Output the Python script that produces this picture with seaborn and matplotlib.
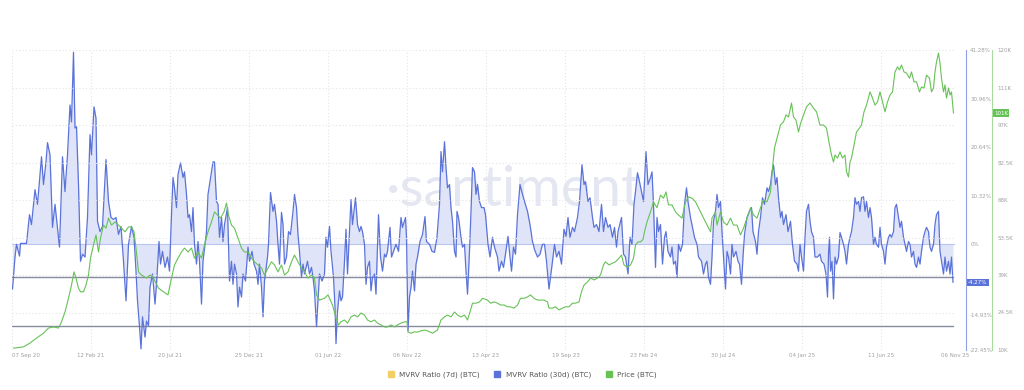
import pandas as pd
import numpy as np
import seaborn as sns
import matplotlib.pyplot as plt
from matplotlib.lines import Line2D

# --- data ----------------------------------------------------------------
start = "2020-09-07"
end = "2025-11-06"

# MVRV Ratio (30d), % ; x = days since 07 Sep 2020
mvrv_day = [
    1, 6, 9, 15, 17, 29, 35, 39, 46, 51,
    59, 63, 68, 71, 76, 81, 86, 95, 101, 106,
    111, 116, 119, 123, 126, 129, 133, 137, 141, 146,
    151, 156, 159, 164, 168, 171, 176, 181, 188, 193,
    198, 203, 208, 213, 218, 223, 228, 233, 239, 244,
    248, 251, 255, 258, 261, 266, 269, 273, 276, 281,
    286, 289, 294, 297, 301, 306, 311, 315,
    319, 322, 325, 329, 332, 337, 342, 345, 349, 352,
    355, 359, 362, 365, 369, 372, 375, 379, 382, 389,
    392, 395, 399, 402, 405, 409, 412, 415, 419, 422,
    425, 431, 435, 439, 442, 445, 449, 452, 455, 459,
    462, 467, 472, 475, 480, 484, 489, 492, 495, 499,
    502, 505, 511, 513, 517, 522, 525, 529, 532, 535,
    539, 542, 545, 549, 553, 557, 562, 565, 569, 572,
    575, 579, 582, 585, 591, 595, 599, 602, 605, 609,
    612, 615, 620, 625,
    628, 631, 635, 638, 643, 646, 648, 651, 655, 658,
    661, 665, 668, 671, 675, 678, 681, 687, 691, 695,
    698, 701, 705, 708, 711, 715, 718, 721, 725, 728,
    733, 737, 741, 745, 748, 751, 756, 759, 763, 768,
    773, 778, 781, 787, 789, 792, 795, 798, 801, 805,
    808, 811, 816, 821, 826, 829, 835, 840, 845, 850,
    855, 858, 861, 865, 868, 871, 875, 878, 881, 885,
    888, 890, 893, 898, 901, 905, 908, 911, 915, 918,
    921, 925, 928, 931, 935, 939,
    944, 947, 952, 956, 961, 965, 971, 974, 979, 983,
    987, 992, 996, 999, 1003, 1007, 1011, 1016, 1021, 1025,
    1031, 1036, 1041, 1045, 1051, 1056, 1061, 1065, 1069, 1074,
    1077, 1081, 1085, 1089, 1094, 1099, 1104, 1108, 1112, 1116,
    1121, 1125, 1131, 1135, 1140, 1144, 1147, 1152, 1156, 1161,
    1164, 1169, 1174, 1179, 1183, 1187, 1192, 1196, 1201, 1205,
    1209, 1212, 1219, 1223, 1227, 1232, 1236, 1240, 1244, 1247,
    1251, 1255, 1259,
    1263, 1268, 1272, 1277, 1280, 1283, 1287, 1290, 1293, 1297,
    1301, 1305, 1308, 1312, 1317, 1320, 1323, 1327, 1330, 1333,
    1337, 1341, 1345, 1349, 1352, 1357, 1361, 1365, 1370, 1373,
    1379, 1383, 1387, 1390, 1393, 1397, 1400, 1403, 1407, 1410,
    1413, 1417, 1420, 1423, 1427, 1430, 1433, 1437, 1440, 1443,
    1448, 1452, 1455, 1459, 1462, 1465, 1470, 1475, 1479, 1482,
    1487, 1490, 1493, 1497, 1501, 1505, 1510, 1513, 1517, 1520,
    1523, 1527, 1530, 1533, 1537, 1540, 1543, 1548, 1552, 1557,
    1561, 1565, 1570, 1573,
    1576, 1579, 1583, 1586, 1589, 1593, 1596, 1599, 1603, 1606,
    1611, 1616, 1619, 1624, 1628, 1631, 1633, 1635, 1637, 1640,
    1643, 1646, 1649, 1653, 1656, 1659, 1663, 1666, 1669, 1673,
    1676, 1679, 1683, 1686, 1689, 1693, 1696, 1699, 1703, 1706,
    1709, 1713, 1716, 1719, 1723, 1726, 1729, 1733, 1736, 1739,
    1743, 1746, 1749, 1753, 1756, 1759, 1763, 1766, 1769, 1773,
    1776, 1779, 1783, 1786, 1789, 1793, 1796, 1799, 1803, 1806,
    1809, 1813, 1816, 1819, 1823, 1826, 1829, 1833, 1836, 1839,
    1843, 1846, 1849, 1853, 1856, 1859, 1863, 1866, 1869, 1873,
    1876, 1879, 1882,
]
mvrv_value = [
    -9.5, -2.7, 0, -2.5, 0.2, 0.2, 6.3, 4.2, 11.6, 8.5,
    18.6, 12.7, 17.5, 21.6, 19, 3.6, 8.5, -0.6, 18.6, 11.2,
    19, 29.6, 26, 40.8, 24.7, 25, 12.7, -3.6, -2.1, -2.7,
    5.7, 23.3, 19, 29.2, 26.8, 4.9, 2.7, 3.8, 18, 9.1,
    5.7, 5.3, 5.7, 2.1, 3.8, -3.6, -12, 0, 3.8, 1.5,
    -5.7, -12, -17.5, -22.2, -15.4, -19.7, -16.3, -17.3, -9.1, -6.3,
    -12.7, -8.5, 0.6, -4.2, -1.5, -4.9, -2.7, -5.7,
    6.3, 14.2, 12, 7.8, 14.8, 17.3, 14.2, 15.4, 10.6, 5.7,
    6.3, 2.7, 7.8, 0, -4.2, 0.6, -3.6, -12.7, -3.6, 2.7,
    10.6, 12.7, 15.4, 17.5, 17.5, 9.1, 8.5, 1.5, 5.7, 0.6,
    4.2, 7.8, -7.8, -3.6, -8.5, -4.2, -6.3, -13.3, -9.1, -11.2,
    -6.3, -7.8, -0.6, -3.6, -1.5, -4.2, -5.7, -8.5, -4.2, -9.1,
    -15.4, -7.8, -2.7, 0, 11, 7, 8.5, 4.9, 0, -4.2,
    6.8, 4.2, -4.2, -2.7, 2.7, 2.1, 7, 10.6, 7.8, 2.1,
    -1.5, -7, -4.2, -6.3, -3.6, -6.3, -4.9, -7, -9.9, -17.5,
    -12, -6.3, -7.8, -6.3,
    1.5, -0.6, 3.8, -1.5, -7, -13.3, -21.1, -14.2, -9.9, -12,
    -11.2, -3.6, 3.2, -6.3, 2.7, 9.5, 4.2, 9.9, 4.2, 2.7,
    3.8, 2.7, 0, -8.5, -4.9, -3.6, -9.9, -7, -6.3, -10.6,
    6.3, -2.7, -5.7, -2.1, -2.7, -1.5, 3.6, -2.7, -1.5, 0,
    -1.5, 5.7, 3.6, 5.7, 1.5, -18.4, -11.2, -9.1, -5.7, -9.9,
    -4.2, -2.7, 0.6, 2.1, 5.9, 0.6, 0, -1.5, -1.7, 1.5,
    8.5, 19.7, 15.4, 21.8, 16.3, 12, 12.7, 7.8, 4.9, -1.5,
    -2.7, 7, 5.7, 1.5, -0.6, 0, -5.7, -10.6, -1.5, 7,
    16.3, 15.4, 10.6, 12.7, 9.1, 7.8,
    7.8, 6.3, 0, -2.7, 1.5, -0.6, -2.7, -5.7, -3.6, -4.9,
    -2.1, 1.7, -2.7, -5.7, -0.6, -2.1, 6.3, 12.7, 10.6, 9.1,
    7, 4.2, 0.6, -1.1, -2.7, -2.1, 0, 0, -3.6, -9.5,
    -7, -3.6, 0, -2.7, -1.5, -4.2, 3.2, 1.7, 5.7, 1.5,
    3.6, 2.7, 5.7, 9.1, 16.9, 12.7, 13.3, 9.1, 9.9, 5.7,
    3.6, 4.2, 2.7, 8.5, 2.7, 5.7, 3.6, 4.2, 1.5, 3.6,
    -0.6, 2.7, 5.7, -2.1, -2.7, -6.3, 1.5, 0, 8.5, 11.2,
    15.2, 13.3, 11.2,
    9.1, 19.7, 12.7, 14.2, 15.4, 8.5, -4.9, 5.7, 2.7, 4.2,
    -4.2, 1.5, 2.7, -1.5, -2.7, -0.6, -4.2, -3.6, -7, 0,
    -1.5, 0, 8.5, 12, 9.1, 5.7, 3.6, 1.5, 0, -2.7,
    -3.6, -6.3, -4.2, -3.6, -7, -8.5, -2.7, 4.9, 7, 10.6,
    7.8, 9.1, 2.7, -2.7, -9.5, -1.5, -2.7, -6.3, 0, -2.7,
    -1.5, -3.6, -4.2, -8.5, -2.7, 2.1, 5.7, 7, 7.8, 2.7,
    0.6, -2.1, 2.7, 5.7, 9.9, 8.5, 12, 11.2, 12.7, 15.4,
    16.9, 12.7, 14.2, 9.9, 5.7, 7, 4.2, 6.3, 2.7, 4.9,
    0, -3.6, -4.2, -5.7,
    0, -2.7, -5.7, 1.5, 7, 8.5, 4.9, 2.7, 1.5, -2.7,
    -2.7, -2.1, -3.6, -4.2, -6.3, -11.2, -2.1, 1.5, -5.7, -3.6,
    -11.6, -2.7, -4.2, -2.7, 2.5, 1.5, 0, -1.5, -4.2, 0,
    1.5, 2.7, 5.7, 9.9, 8.5, 9.1, 7, 9.9, 10.1, 7,
    9.1, 5.7, 7.8, 5.7, 0, 1.5, 0, -0.6, 3.6, 0,
    -1.5, -4.2, -0.6, 1.5, 2.1, 1.5, 2.7, 7.8, 8.5, 5.7,
    3.6, 4.9, 1.5, 0, -1.5, 0.6, 0, -2.7, -1.5, -4.2,
    -4.9, -2.7, -4.2, -1.5, 1.5, 2.7, 3.6, 2.7, -0.6, -1.5,
    0, 4.2, 6.3, 7, -1.5, -3.6, -6.3, -2.7, -5.7, -3.6,
    -6.3, -2.7, -8.1,
]

# Price (BTC), thousands of USD
price_day = [
    3, 23, 36, 49, 63, 73, 83, 93, 99, 106,
    113, 119, 124, 128, 133, 137, 143, 148, 153, 157,
    163, 168, 173, 177, 183, 188, 193, 199, 206, 213,
    219, 226, 233, 239, 244, 248, 253, 259, 269, 276,
    283, 293, 303, 312, 319, 325, 332, 339, 345, 352,
    359, 365, 372, 379, 385, 392, 399, 405, 411, 417,
    424, 429, 433, 439, 445, 452, 459, 465, 472, 479,
    485, 492, 499, 505, 512, 519, 525, 532, 539, 545,
    552, 559, 565, 572, 579, 585, 592, 599, 605, 609,
    615, 625, 632, 635, 641, 648, 653, 658, 665, 671,
    678, 685, 691, 698, 705, 711, 718, 725, 731, 738,
    745, 751, 758, 765, 771, 778, 785, 790, 792, 798,
    805, 811, 818, 825, 831, 841, 851, 858, 865, 871,
    878, 885, 891, 898, 905, 911, 916, 921, 928, 935,
    941, 951, 957, 964, 971, 977, 984, 991, 997, 1004,
    1011, 1017, 1024, 1031, 1037, 1044, 1051, 1057, 1064, 1071,
    1074, 1081, 1087, 1094, 1101, 1107, 1114, 1121, 1127, 1134,
    1139, 1144, 1151, 1157, 1164, 1171, 1177, 1183, 1187, 1194,
    1201, 1207, 1214, 1219, 1224, 1231, 1237, 1243, 1247, 1252,
    1257, 1262, 1265, 1270, 1277, 1283, 1290, 1297, 1303, 1308,
    1313, 1320, 1327, 1333, 1340, 1347, 1353, 1360, 1367, 1373,
    1380, 1387, 1393, 1397, 1400, 1407, 1410, 1417, 1423, 1430,
    1437, 1443, 1450, 1457, 1463, 1470, 1477, 1483, 1490, 1497,
    1503, 1510, 1517, 1521, 1525, 1530, 1537, 1543, 1548, 1553,
    1559, 1563, 1568, 1573, 1577, 1583, 1589, 1596, 1603, 1609,
    1616, 1623, 1629, 1635, 1639, 1643, 1646, 1651, 1656, 1661,
    1666, 1669, 1673, 1676, 1679, 1684, 1689, 1695, 1699, 1704,
    1709, 1716, 1721, 1726, 1731, 1736, 1741, 1746, 1751, 1756,
    1761, 1766, 1771, 1775, 1779, 1784, 1789, 1795, 1799, 1804,
    1809, 1815, 1819, 1824, 1829, 1835, 1839, 1843, 1846, 1849,
    1853, 1856, 1859, 1863, 1866, 1869, 1873, 1876, 1879, 1883,
]
price_value = [
    10.7, 11.2, 12.7, 14.6, 16.5, 18.5, 18.9, 18.5, 20.9, 24.7,
    30.0, 35.1, 40.2, 37.8, 33.9, 32.5, 32.5, 35.1, 39.0, 45.5,
    50.6, 54.5, 47.9, 53.3, 58.3, 57.1, 61.0, 58.3, 59.5, 58.3,
    57.1, 55.7, 57.6, 57.6, 55.7, 49.4, 40.2, 39.0, 37.8, 39.0,
    37.8, 33.9, 32.5, 31.3, 37.8, 42.9, 45.5, 47.9, 49.4, 47.9,
    49.4, 45.5, 47.9, 45.5, 50.6, 55.7, 59.5, 63.4, 62.2, 61.0,
    63.4, 66.8, 62.2, 58.3, 57.1, 53.3, 49.4, 47.9, 47.9, 45.5,
    44.1, 42.9, 41.7, 39.0, 41.7, 44.1, 42.9, 40.2, 42.9, 39.0,
    40.2, 44.1, 46.7, 44.1, 41.7, 40.2, 37.8, 39.0, 37.8, 31.3,
    29.3, 30.0, 31.3, 30.0, 27.4, 22.3, 19.7, 20.9, 21.6, 20.4,
    22.8, 23.5, 22.8, 24.3, 23.5, 21.6, 20.9, 21.6, 20.4, 19.7,
    18.9, 18.9, 19.7, 18.9, 19.7, 20.4, 20.9, 20.9, 17.0, 16.5,
    17.0, 16.9, 17.4, 17.7, 17.4, 16.5, 17.7, 21.6, 22.8, 23.5,
    22.8, 24.7, 23.5, 22.8, 23.5, 21.6, 24.7, 28.1, 28.1, 28.6,
    30.0, 29.3, 28.1, 28.6, 28.1, 27.4, 27.4, 26.7, 26.7, 26.2,
    27.4, 30.0, 30.0, 30.5, 31.3, 30.0, 29.3, 29.3, 29.3, 28.6,
    26.2, 26.2, 26.7, 25.5, 26.2, 26.7, 26.7, 28.1, 28.1, 28.6,
    32.5, 35.1, 36.3, 37.8, 37.1, 37.8, 39.0, 42.9, 44.1, 42.9,
    43.6, 44.1, 45.5, 46.7, 42.9, 42.0, 42.9, 45.5, 50.6, 51.8,
    51.8, 52.7, 55.7, 59.5, 63.4, 67.3, 65.0, 69.9, 68.7, 71.1,
    66.1, 66.1, 63.4, 62.2, 61.0, 67.3, 69.2, 68.7, 67.3, 65.0,
    62.2, 59.5, 57.1, 55.7, 61.0, 63.4, 58.3, 63.4, 59.5, 58.3,
    61.0, 58.3, 58.3, 54.5, 57.1, 61.0, 65.0, 62.2, 61.0, 65.0,
    68.0, 67.3, 71.1, 80.3, 88.1, 91.9, 97.0, 98.2, 100.9, 100.1,
    105.5, 100.1, 98.9, 94.3, 97.5, 100.9, 104.0, 105.5, 103.5, 102.1,
    97.0, 97.0, 95.8, 89.3, 85.4, 82.7, 85.4, 84.2, 86.6, 84.2,
    85.4, 78.9, 76.9, 82.7, 84.2, 89.3, 94.3, 95.8, 97.0, 102.1,
    104.7, 109.8, 107.4, 104.7, 105.9, 109.8, 105.9, 102.1, 105.9, 108.6,
    109.8, 117.5, 119.5, 118.3, 120.2, 117.5, 117.1, 115.1, 117.5, 113.7,
    113.7, 109.8, 111.7, 111.3, 116.3, 115.1, 109.8, 111.3, 117.5, 121.4,
    124.8, 120.9, 115.1, 109.8, 112.5, 107.4, 111.3, 108.6, 109.8, 101.6,
]

# horizontal reference lines drawn on the MVRV scale
ref_levels = [-6.95, -17.36]

tick_dates = ["2020-09-07", "2021-02-12", "2021-07-20", "2021-12-25", "2022-06-01",
              "2022-11-06", "2023-04-13", "2023-09-19", "2024-02-23", "2024-07-30",
              "2025-01-04", "2025-06-11", "2025-11-06"]
tick_labels = ["07 Sep 20", "12 Feb 21", "20 Jul 21", "25 Dec 21", "01 Jun 22",
               "06 Nov 22", "13 Apr 23", "19 Sep 23", "23 Feb 24", "30 Jul 24",
               "04 Jan 25", "11 Jun 25", "06 Nov 25"]

mvrv_ticks = [41.28, 30.96, 20.64, 10.32, 0, -14.93, -22.45]
mvrv_tick_labels = ["41.28%", "30.96%", "20.64%", "10.32%", "0%", "-14.93%", "-22.45%"]
price_ticks = [10, 24.5, 39, 53.5, 68, 82.5, 97, 111.5, 126]
price_tick_labels = ["10K", "24.5K", "39K", "53.5K", "68K", "82.5K", "97K", "111K", "120K"]

last_mvrv_label = "-4.27%"
last_price_label = "101K"

assert len(mvrv_day) == len(mvrv_value)
assert len(price_day) == len(price_value)

# --- frames --------------------------------------------------------------
t0 = pd.Timestamp(start)
mvrv = pd.DataFrame({"date": t0 + pd.to_timedelta(mvrv_day, unit="D"), "mvrv": mvrv_value})
price = pd.DataFrame({"date": t0 + pd.to_timedelta(price_day, unit="D"), "price": price_value})

BLUE = "#5b73d9"
FILL = "#dfe4f8"
GREEN = "#67c256"
YELLOW = "#f3cf63"
GRID = "#e4e4e4"
TXT = "#a0a0a0"

sns.set_style("white")
plt.rcParams["font.family"] = ["DejaVu Sans"]

fig = plt.figure(figsize=(10.24, 3.9), dpi=100)
ax = fig.add_axes([12 / 1024, 1 - 350 / 390, 943 / 1024, 300 / 390])
ax2 = ax.twinx()

# watermark
ax.text(0.54, 0.53, "\u00b7santiment\u00b7", transform=ax.transAxes, ha="center", va="center",
        fontsize=40, color="#e4e7f1", family=["Lato", "DejaVu Sans"], zorder=0)

# MVRV 30d
ax.fill_between(mvrv["date"], mvrv["mvrv"], 0, color=FILL, lw=0, zorder=1)
ax.axhline(0, color="#b9c4ef", lw=0.8, zorder=1)
sns.lineplot(data=mvrv, x="date", y="mvrv", ax=ax, color=BLUE, lw=0.9, zorder=3)
for lvl in ref_levels:
    ax.axhline(lvl, xmin=0, xmax=(953 - 12) / 943, color="#868b9f", lw=1.0, zorder=2)

# Price
sns.lineplot(data=price, x="date", y="price", ax=ax2, color=GREEN, lw=0.8, zorder=3)

ax.set_xlim(t0, pd.Timestamp(end))
ax.set_ylim(-22.45, 41.28)
ax2.set_ylim(10, 126)

# grids
ax.grid(False)
ax2.grid(axis="y", color=GRID, ls=(0, (1, 2)), lw=0.8)
ax2.grid(axis="x", visible=False)
ax.set_xticks(pd.to_datetime(tick_dates))
ax.set_xticklabels(tick_labels)
ax.xaxis.grid(True, color=GRID, ls=(0, (1, 2)), lw=0.8)
ax.yaxis.grid(False)
ax.get_xticklabels()[0].set_horizontalalignment("left")

# axes cosmetics
for a in (ax, ax2):
    for s in ("top", "left", "bottom"):
        a.spines[s].set_visible(False)
    a.set_xlabel("")
    a.set_ylabel("")

ax.yaxis.tick_right()
ax.spines["right"].set_position(("axes", (966 - 12) / 943))
ax.spines["right"].set_color("#8fa0e8")
ax.spines["right"].set_linewidth(0.8)
ax.set_yticks(mvrv_ticks)
ax.set_yticklabels(mvrv_tick_labels)
ax.tick_params(axis="y", length=0, pad=3, labelsize=4, labelcolor=TXT)
ax.tick_params(axis="x", length=0, pad=2, labelsize=4, labelcolor=TXT)

ax2.spines["right"].set_position(("axes", (992 - 12) / 943))
ax2.spines["right"].set_color("#a6dc9c")
ax2.spines["right"].set_linewidth(0.8)
ax2.set_yticks(price_ticks)
ax2.set_yticklabels(price_tick_labels)
ax2.tick_params(axis="y", length=0, pad=4, labelsize=4, labelcolor=TXT)

# current value tags
ax.text((968 - 12) / 943, mvrv_value[-1], last_mvrv_label, transform=ax.get_yaxis_transform(),
        ha="left", va="center", fontsize=4, color="white", clip_on=False,
        bbox=dict(boxstyle="square,pad=0.25", fc=BLUE, ec="none"))
ax2.text((994 - 12) / 943, price_value[-1], last_price_label, transform=ax2.get_yaxis_transform(),
         ha="left", va="center", fontsize=4, color="white", clip_on=False,
         bbox=dict(boxstyle="square,pad=0.25", fc=GREEN, ec="none"))

# legend
handles = [Line2D([], [], marker="s", ls="", color=c, markersize=4)
           for c in (YELLOW, BLUE, GREEN)]
fig.legend(handles, ["MVRV Ratio (7d) (BTC)", "MVRV Ratio (30d) (BTC)", "Price (BTC)"],
           loc="center", bbox_to_anchor=(0.508, 0.038), ncol=3, frameon=False,
           fontsize=5.2, handletextpad=0.2, columnspacing=1.4, labelcolor="#555555")

fig.savefig("out.png", dpi=100, facecolor="white")
